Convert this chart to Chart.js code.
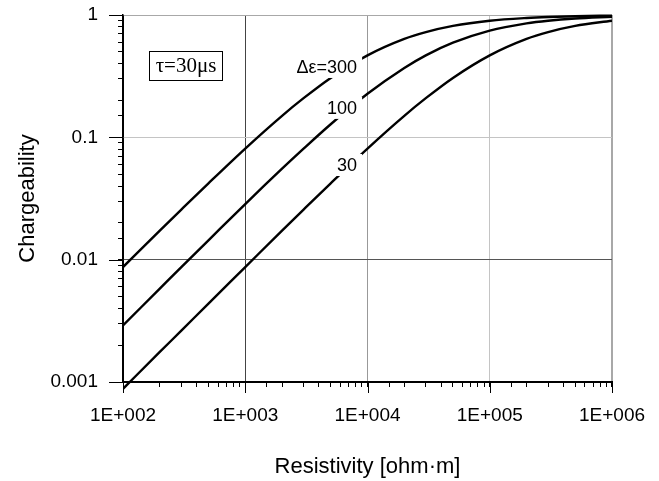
<!DOCTYPE html>
<html>
<head>
<meta charset="utf-8">
<script src="https://cdn.jsdelivr.net/npm/chart.js@4.4.1/dist/chart.umd.min.js"></script>
<style>
    html, body { margin: 0; padding: 0; background: #fff; }
    #wrap { width: 659px; height: 481px; }
</style>
</head>
<body>
<div id="wrap"><canvas id="chargeChart"></canvas></div>
<script>
// Valeurs (échelles log-log)
const resistivity = [100, 200, 300, 500, 1000, 2000, 3000, 5000, 10000, 20000, 30000, 50000, 100000, 200000, 300000, 500000, 1000000];
const m300 = [0.0087, 0.0173, 0.0257, 0.0421, 0.081, 0.150, 0.209, 0.306, 0.468, 0.638, 0.725, 0.815, 0.898, 0.946, 0.964, 0.978, 0.989];
const m100 = [0.0029, 0.0058, 0.0087, 0.0144, 0.0285, 0.0554, 0.0808, 0.128, 0.227, 0.369, 0.468, 0.594, 0.746, 0.854, 0.898, 0.936, 0.967];
const m30 = [0.00088, 0.00176, 0.00263, 0.00438, 0.0087, 0.0173, 0.0257, 0.0421, 0.081, 0.150, 0.209, 0.306, 0.468, 0.638, 0.725, 0.815, 0.898];
const curveNames = ['Δε=300', '100', '30'];
const yTickLabels = ['0.001', '0.01', '0.1', '1'];

const FONT = "'Liberation Sans', Arial, sans-serif";

function isDecade(v) {
    const l = Math.log10(v);
    return Math.abs(l - Math.round(l)) < 1e-6;
}

function toPoints(values) {
    return resistivity.map((x, i) => ({x: x, y: values[i]}));
}

function makeDataset(label, values) {
    return {
        label: label,
        data: toPoints(values),
        borderColor: '#000',
        borderWidth: 2.4,
        pointRadius: 0,
        fill: false,
        cubicInterpolationMode: 'monotone',
        clip: {left: 0, top: 2, right: 0, bottom: 8}
    };
}

// couleurs des lignes de grille par décade
const xGrid = {2: '#000', 3: '#444', 4: '#999', 5: '#c4c4c4', 6: '#a8a8a8'};
const yGrid = {'-3': '#000', '-2': '#555', '-1': '#c4c4c4', '0': '#a8a8a8'};

const annotations = {
    id: 'annotations',
    afterDatasetsDraw(chart) {
        const {ctx, chartArea, scales} = chart;
        const xs = scales.x, ys = scales.y;
        ctx.save();
        // graduations principales plus longues
        ctx.strokeStyle = '#000';
        ctx.lineWidth = 1;
        ctx.beginPath();
        xs.ticks.forEach(t => {
            if (!isDecade(t.value)) return;
            const px = Math.round(xs.getPixelForValue(t.value)) + 0.5;
            ctx.moveTo(px, chartArea.bottom);
            ctx.lineTo(px, chartArea.bottom + 11);
        });
        ys.ticks.forEach(t => {
            if (!isDecade(t.value)) return;
            const py = Math.round(ys.getPixelForValue(t.value)) + 0.5;
            ctx.moveTo(chartArea.left - 14, py);
            ctx.lineTo(chartArea.left, py);
        });
        ctx.stroke();

        // étiquettes des courbes, fond blanc pour couper la ligne
        const anchors = [[8220, 0.376], [8220, 0.174], [8220, 0.0594]];
        ctx.font = '18px ' + FONT;
        ctx.textBaseline = 'middle';
        ctx.textAlign = 'right';
        curveNames.forEach((name, i) => {
            const px = xs.getPixelForValue(anchors[i][0]);
            const py = ys.getPixelForValue(anchors[i][1]);
            const w = ctx.measureText(name).width;
            ctx.fillStyle = '#fff';
            ctx.fillRect(px - w - 5, py - 11, w + 10, 22);
            ctx.fillStyle = '#000';
            ctx.fillText(name, px, py + 1);
        });
        // boîte tau
        const bx = chartArea.left + 26, by = chartArea.top + 36;
        ctx.fillStyle = '#fff';
        ctx.fillRect(bx, by, 73, 29);
        ctx.strokeStyle = '#000';
        ctx.lineWidth = 1;
        ctx.strokeRect(bx + 0.5, by + 0.5, 73, 29);
        ctx.fillStyle = '#000';
        ctx.textAlign = 'center';
        ctx.font = "21px 'Liberation Serif', 'Times New Roman', serif";
        ctx.fillText('τ=30μs', bx + 37, by + 15);
        ctx.restore();
    }
};

new Chart(document.getElementById('chargeChart'), {
    type: 'line',
    data: {
        datasets: [
            makeDataset(curveNames[0], m300),
            makeDataset(curveNames[1], m100),
            makeDataset(curveNames[2], m30)
        ]
    },
    options: {
        responsive: true,
        maintainAspectRatio: false,
        animation: false,
        layout: {padding: {left: 0, top: 15, right: 47, bottom: 0}},
        plugins: {
            legend: {display: false},
            tooltip: {enabled: false}
        },
        scales: {
            x: {
                type: 'logarithmic',
                min: 100,
                max: 1000000,
                afterFit: function (scale) {
                    scale.height = 99;
                    scale.paddingLeft = 0;
                    scale.paddingRight = 0;
                },
                border: {color: '#000', width: 1.5},
                grid: {
                    color: ctx => isDecade(ctx.tick.value) ? xGrid[Math.round(Math.log10(ctx.tick.value))] : 'rgba(0,0,0,0)',
                    lineWidth: ctx => Math.round(Math.log10(ctx.tick.value)) === 6 && isDecade(ctx.tick.value) ? 2 : 1,
                    tickColor: '#000',
                    tickLength: 5
                },
                ticks: {
                    autoSkip: false,
                    maxRotation: 0,
                    padding: 17,
                    color: '#000',
                    font: {family: FONT, size: 19},
                    callback: function (value) {
                        if (!isDecade(value)) return '';
                        const e = Math.round(Math.log10(value));
                        return '1E+' + String(e).padStart(3, '0');
                    }
                },
                title: {
                    display: true,
                    text: 'Resistivity [ohm·m]',
                    color: '#000',
                    font: {family: FONT, size: 22},
                    padding: {top: 2, bottom: 1}
                }
            },
            y: {
                type: 'logarithmic',
                min: 0.001,
                max: 1,
                afterFit: function (scale) {
                    scale.width = 123;
                    scale.paddingTop = 0;
                    scale.paddingBottom = 0;
                },
                border: {color: '#000', width: 1.5},
                grid: {
                    color: ctx => isDecade(ctx.tick.value) ? yGrid[String(Math.round(Math.log10(ctx.tick.value)))] : 'rgba(0,0,0,0)',
                    tickColor: '#000',
                    tickLength: 5
                },
                ticks: {
                    autoSkip: false,
                    padding: 20,
                    color: '#000',
                    font: {family: FONT, size: 19},
                    callback: function (value) {
                        if (!isDecade(value)) return '';
                        return yTickLabels[Math.round(Math.log10(value)) + 3];
                    }
                },
                title: {
                    display: true,
                    text: 'Chargeability',
                    color: '#000',
                    font: {family: FONT, size: 22},
                    padding: {top: 15, bottom: 2}
                }
            }
        }
    },
    plugins: [annotations]
});
</script>
</body>
</html>
